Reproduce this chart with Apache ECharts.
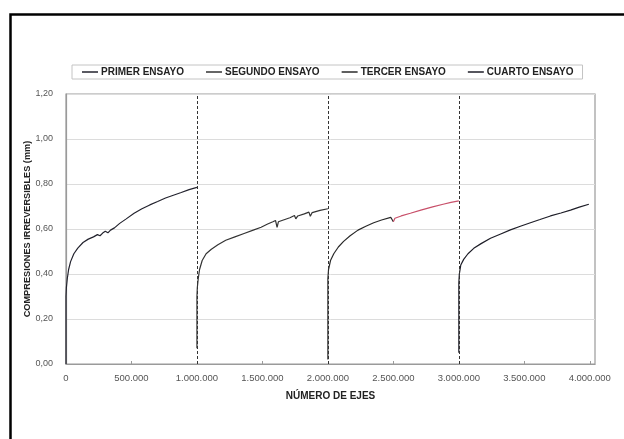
<!DOCTYPE html>
<html>
<head>
<meta charset="utf-8">
<script src="https://cdn.jsdelivr.net/npm/echarts@6/dist/echarts.min.js"></script>
<style>html,body{margin:0;padding:0;background:#fff;}#c{width:624px;height:439px;}</style>
</head>
<body>
<div id="c"></div>
<script>
// ---- data ----
const seriesNames = ['PRIMER ENSAYO', 'SEGUNDO ENSAYO', 'TERCER ENSAYO', 'CUARTO ENSAYO'];
const ensayo1 = [[0,0],[0,0.30],[3000,0.34],[10000,0.38],[20000,0.42],[35000,0.455],[60000,0.49],[90000,0.515],[130000,0.54],[170000,0.555],[210000,0.565],[240000,0.575],[260000,0.57],[280000,0.582],[300000,0.59],[320000,0.583],[340000,0.595],[370000,0.605],[410000,0.625],[460000,0.645],[520000,0.67],[580000,0.69],[640000,0.707],[700000,0.722],[760000,0.738],[820000,0.75],[880000,0.762],[940000,0.775],[1000000,0.785]];
const ensayo2 = [[1000000,0.07],[1000000,0.30],[1003000,0.34],[1010000,0.38],[1020000,0.42],[1040000,0.46],[1070000,0.49],[1110000,0.51],[1160000,0.53],[1220000,0.55],[1290000,0.565],[1360000,0.58],[1430000,0.595],[1490000,0.608],[1540000,0.622],[1580000,0.632],[1600000,0.638],[1612000,0.607],[1622000,0.632],[1660000,0.64],[1710000,0.65],[1745000,0.66],[1755000,0.645],[1770000,0.658],[1820000,0.667],[1855000,0.675],[1866000,0.657],[1880000,0.673],[1940000,0.683],[2000000,0.69]];
const ensayo3 = [[2000000,0.02],[2000000,0.38],[2005000,0.42],[2020000,0.46],[2045000,0.49],[2080000,0.52],[2120000,0.545],[2170000,0.57],[2230000,0.595],[2290000,0.612],[2350000,0.628],[2410000,0.64],[2480000,0.652],[2500000,0.632],[2512000,0.648],[2560000,0.658],[2630000,0.67],[2710000,0.684],[2800000,0.698],[2880000,0.71],[2940000,0.718],[3000000,0.725]];
const ensayo4 = [[3000000,0.05],[3000000,0.36],[3004000,0.40],[3015000,0.44],[3037000,0.465],[3070000,0.49],[3114000,0.514],[3170000,0.535],[3242000,0.559],[3320000,0.578],[3394000,0.596],[3470000,0.612],[3547000,0.628],[3620000,0.642],[3700000,0.658],[3780000,0.671],[3853000,0.684],[3920000,0.697],[3993000,0.71]];
const dividers = [1000000, 2000000, 3000000];
const redFrom = 2500000; // x where the third curve turns red
const xTitle = 'NÚMERO DE EJES';
const yTitle = 'COMPRESIONES IRREVERSIBLES (mm)';

const font = 'Liberation Sans, Arial, sans-serif';
const chart = echarts.init(document.getElementById('c'));
const mkLine = (name, data, color, extra) => Object.assign({
  name, type: 'line', data, symbol: 'none', showSymbol: false,
  lineStyle: { width: 1.2, color }, itemStyle: { color }, z: 3, animation: false
}, extra || {});

chart.setOption({
  animation: false,
  backgroundColor: '#fff',
  graphic: [{ type: 'rect', left: 8, top: 12, shape: { width: 640, height: 460 },
    style: { fill: 'none', stroke: '#000', lineWidth: 2.5 }, silent: true }],
  legend: {
    left: 72, top: 65, padding: [2, 9, 2, 10], itemGap: 22, itemWidth: 16, itemHeight: 1.5,
    icon: 'rect',
    borderColor: '#c4c4c4', borderWidth: 1, backgroundColor: '#fff',
    textStyle: { fontFamily: font, fontWeight: 'bold', fontSize: 10, color: '#222', padding: [0, 0, 0, -2] },
    data: seriesNames
  },
  grid: { left: 66, right: 29, top: 94, bottom: 75, show: true, borderColor: '#9a9a9a', borderWidth: 1.2 },
  xAxis: {
    type: 'value', min: 0, max: 4040000, interval: 500000,
    name: xTitle, nameLocation: 'middle', nameGap: 27, nameMoveOverlap: false,
    nameTextStyle: { fontFamily: font, fontWeight: 'bold', fontSize: 10, color: '#222' },
    axisLine: { show: true, lineStyle: { color: '#9a9a9a', width: 1.2 } },
    axisTick: { show: true, inside: true, length: 3, lineStyle: { color: '#9a9a9a' } },
    splitLine: { show: false },
    axisLabel: { fontFamily: font, fontSize: 9.5, color: '#555', margin: 9, showMaxLabel: false,
      formatter: v => String(v).replace(/\B(?=(\d{3})+(?!\d))/g, '.') }
  },
  yAxis: {
    type: 'value', min: 0, max: 1.2, interval: 0.2,
    name: yTitle, nameLocation: 'middle', nameGap: 34, nameMoveOverlap: false,
    nameTextStyle: { fontFamily: font, fontWeight: 'bold', fontSize: 9.2, color: '#222' },
    axisLine: { show: true, lineStyle: { color: '#9a9a9a', width: 1.2 } },
    axisTick: { show: false },
    splitLine: { show: true, lineStyle: { color: '#dcdcdc', width: 1 } },
    axisLabel: { fontFamily: font, fontSize: 9, color: '#555', margin: 13,
      formatter: v => v.toFixed(2).replace('.', ',') }
  },
  series: [
    mkLine(seriesNames[0], ensayo1, '#23232e', {
      markLine: { silent: true, symbol: 'none', label: { show: false },
        lineStyle: { color: '#333', type: [3, 2], width: 1 },
        data: dividers.map(d => ({ xAxis: d })) }
    }),
    mkLine(seriesNames[1], ensayo2, '#333333'),
    mkLine(seriesNames[2], ensayo3.filter(p => p[0] <= redFrom), '#2a2a2a'),
    mkLine(seriesNames[2], ensayo3.filter(p => p[0] >= redFrom), '#c8506a'),
    mkLine(seriesNames[3], ensayo4, '#1e1e28')
  ]
});
</script>
</body>
</html>
